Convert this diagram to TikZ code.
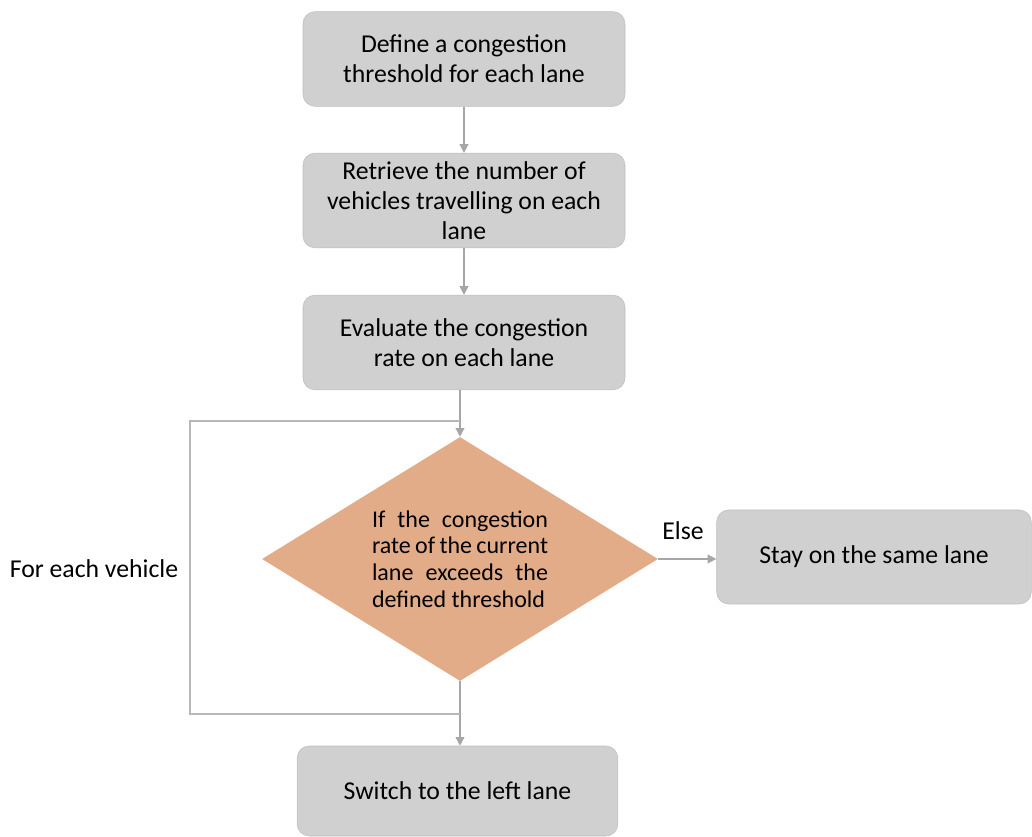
\documentclass[tikz,border=0pt]{standalone}
\usepackage{fontspec}
\setmainfont{Carlito}
\usetikzlibrary{shapes.geometric,arrows.meta}
\definecolor{boxgray}{HTML}{D0D0D0}
\definecolor{boxline}{HTML}{BEBEBE}
\definecolor{condfill}{HTML}{E3AC88}
\definecolor{arrowgray}{HTML}{A6A6A6}
\begin{document}
\begin{tikzpicture}[x=0.75pt, y=-0.75pt,
  stepbox/.style={draw=boxline, fill=boxgray, rounded corners=9pt, align=center,
    minimum width=241.5pt, minimum height=71pt, font=\fontsize{19.3}{22.5}\selectfont},
  condbox/.style={diamond, aspect=1.62, fill=condfill, inner sep=0pt, minimum width=297pt, minimum height=183pt,
    text width=132pt, align=justify, font=\fontsize{18}{19.9}\selectfont},
  flow/.style={draw=arrowgray, line width=1.1pt, -{Triangle[width=6.5pt,length=6.5pt]}},
  loopline/.style={draw=arrowgray!80, line width=0.8pt},
  lbl/.style={font=\fontsize{19.3}{22.5}\selectfont}]

  \useasboundingbox (0,0) rectangle (1032,837);

	%steps
    \foreach \y/\txt/\name in {59/{Define a congestion\\threshold for each lane}/def,
        200.5/{Retrieve the number of\\vehicles travelling on each\\lane}/ret,
        342.5/{Evaluate the congestion\\rate on each lane}/eval}{
           \node[stepbox] (\name) at (464,\y) {\txt};
    }
    \foreach \a/\b in {def/ret, ret/eval}{
           \draw[flow] (\a) -- (\b);
    }

	%decision
    \node[condbox] (cond) at (460,559) {If the congestion\linebreak rate of the current\linebreak lane exceeds the\linebreak defined threshold};
    \node[stepbox, minimum width=236pt, minimum height=70.5pt] (stay) at (874,557) {Stay on the same lane};
    \node[stepbox, minimum width=240.5pt, minimum height=67.5pt] (switch) at (457.5,791) {Switch to the left lane};

    \draw[flow] (eval.south -| cond.north) -- (cond.north);
    \draw[flow] (cond.east) -- (cond.east -| stay.west);
    \draw[flow] (cond.south) -- (cond.south |- switch.north);

	%loop
    \coordinate (ltop) at (460,421);
    \coordinate (lbot) at (460,714);
    \draw[loopline] (ltop) -- (190,421) -- (190,714) -- (lbot);

    \node[lbl] (each) at (94,569) {For each vehicle};
    \node[lbl] (else) at (683,531) {Else};

\end{tikzpicture}
\end{document}
